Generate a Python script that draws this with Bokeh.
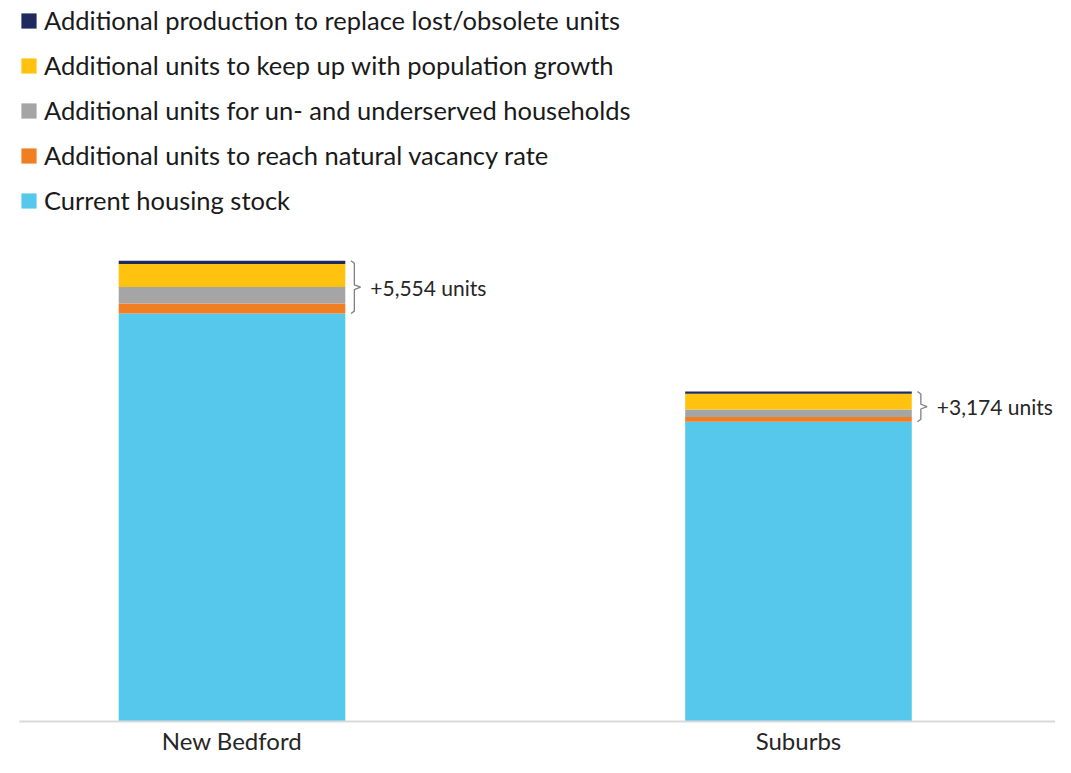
from bokeh.plotting import figure
from bokeh.models import (ColumnDataSource, Range1d, Legend, LegendItem,
                          FixedTicker)
from bokeh.core.properties import value
from bokeh.embed import file_html
from bokeh.resources import INLINE

# ---- data ----
categories = ["New Bedford", "Suburbs"]
current_stock = [43000, 31600]
vacancy = [1050, 484]
underserved = [1750, 800]
pop_growth = [2424, 1650]
replace_lost = [330, 240]

series_names = [
    "Current housing stock",
    "Additional units to reach natural vacancy rate",
    "Additional units for un- and underserved households",
    "Additional units to keep up with population growth",
    "Additional production to replace lost/obsolete units",
]
series_keys = ["stock", "vacancy", "underserved", "growth", "replace"]
colors = ["#56C8EC", "#F07F24", "#A5A5A5", "#FFC20F", "#1F2B5E"]

FONT = "Lato"
x_pos = [i + 0.5 for i in range(len(categories))]
bar_w = 0.40

src = ColumnDataSource(dict(
    x=x_pos, stock=current_stock, vacancy=vacancy, underserved=underserved,
    growth=pop_growth, replace=replace_lost))

p = figure(width=1055, height=757, output_backend="svg", toolbar_location=None,
           x_range=Range1d(0.1249, 1.9537), y_range=Range1d(0, 75466),
           y_axis_location=None, min_border_left=19, min_border_right=0,
           min_border_top=5, min_border_bottom=0)
p.outline_line_color = None
p.xgrid.visible = False
p.ygrid.visible = False

rs = p.vbar_stack(series_keys, x="x", width=bar_w, source=src,
                  color=colors, line_color=None)

# braces and labels
extra = [v + u + g + r for v, u, g, r in zip(vacancy, underserved, pop_growth, replace_lost)]
tops = [s + e for s, e in zip(current_stock, extra)]
mids = [(s + t) / 2 for s, t in zip(current_stock, tops)]
xb = [x + bar_w / 2 + 0.016 for x in x_pos]
tip = 0.011
curl = 0.006
d = 250
xs, ys = [], []
for x0, top, bot, mid in zip(xb, tops, current_stock, mids):
    xs.append([x0 - curl, x0, x0, x0 + tip, x0, x0, x0 - curl])
    ys.append([top, top - d, mid + d, mid, mid - d, bot + d, bot])
p.multi_line(xs, ys, line_color="#808080", line_width=1.3)

labels = [f"+{e:,} units" for e in extra]
p.text(x=[x + bar_w / 2 for x in x_pos], y=mids, text=labels, x_offset=25,
       text_align="left", text_baseline="middle", text_font=value(FONT),
       text_font_size="21px", text_color="#262626")

# axis
xa = p.xaxis[0]
xa.ticker = FixedTicker(ticks=x_pos)
xa.major_label_overrides = {x: c for x, c in zip(x_pos, categories)}
xa.axis_line_color = "#D9D9D9"
xa.axis_line_width = 2
xa.major_tick_line_color = None
xa.minor_tick_line_color = None
xa.major_tick_out = 0
xa.major_tick_in = 0
xa.minor_tick_out = 0
xa.major_label_standoff = 4
xa.major_label_text_font = FONT
xa.major_label_text_font_size = "24px"
xa.major_label_text_color = "#262626"

items = [LegendItem(label=n, renderers=[r]) for n, r in zip(series_names, rs)][::-1]
legend = Legend(items=items, location="top_left", margin=0, padding=0,
                glyph_width=19, glyph_height=19, label_standoff=6,
                spacing=15, label_text_font=FONT, label_text_font_size="25.5px",
                label_text_color="#1A1A1A", border_line_color=None,
                background_fill_alpha=0)
p.add_layout(legend, "center")

open("out.html", "w").write(file_html(p, INLINE))
